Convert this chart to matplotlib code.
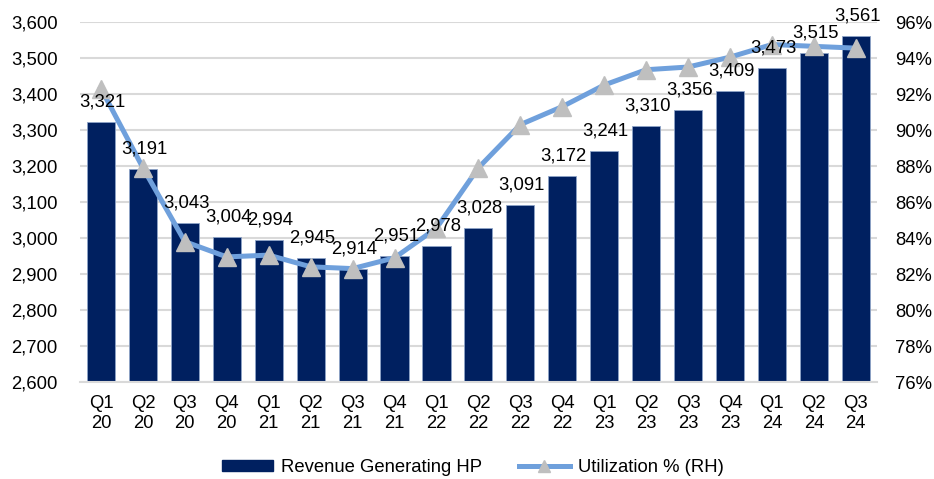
import matplotlib
matplotlib.use("Agg")
import matplotlib.pyplot as plt
from matplotlib.ticker import FuncFormatter, MultipleLocator
from matplotlib.lines import Line2D
from matplotlib.patches import Patch

plt.rcParams['font.family'] = ['Liberation Sans', 'DejaVu Sans']

categories = ["Q1\n20", "Q2\n20", "Q3\n20", "Q4\n20", "Q1\n21", "Q2\n21", "Q3\n21", "Q4\n21",
              "Q1\n22", "Q2\n22", "Q3\n22", "Q4\n22", "Q1\n23", "Q2\n23", "Q3\n23", "Q4\n23",
              "Q1\n24", "Q2\n24", "Q3\n24"]
revenue_hp = [3321, 3191, 3043, 3004, 2994, 2945, 2914, 2951, 2978, 3028, 3091, 3172,
              3241, 3310, 3356, 3409, 3473, 3515, 3561]
utilization = [92.3, 87.9, 83.8, 82.95, 83.05, 82.4, 82.3, 82.9, 84.55, 87.9, 90.3, 91.3,
               92.5, 93.35, 93.5, 94.05, 94.75, 94.65, 94.55]

bar_color = '#002060'
line_color = '#6FA0DC'
marker_color = '#BFBFBF'
grid_color = '#D9D9D9'
fs = 13.3

fig = plt.figure(figsize=(9.34, 4.79), dpi=100)
ax = fig.add_axes([0.0857, 0.2025, 0.853, 0.7515])
x = list(range(len(categories)))

ax.bar(x, revenue_hp, width=0.67, color=bar_color, edgecolor='#8EA4C8', linewidth=0.6, zorder=2)
ax.set_ylim(2600, 3600)
ax.set_xlim(-0.5, len(categories) - 0.5)
ax.yaxis.set_major_locator(MultipleLocator(100))
ax.yaxis.set_major_formatter(FuncFormatter(lambda v, p: f"{int(v):,}"))
ax.grid(axis='y', color=grid_color, linewidth=1.5, zorder=0)
ax.set_axisbelow(True)
for s in ['top', 'right', 'left']:
    ax.spines[s].set_visible(False)
ax.spines['bottom'].set_color(grid_color)
ax.spines['bottom'].set_linewidth(1.5)
ax.set_xticks(x)
ax.set_xticklabels(categories, fontsize=fs, linespacing=1.3)
ax.tick_params(axis='x', length=0, pad=9)
ax.tick_params(axis='y', length=0, pad=16, labelsize=fs)

ax2 = ax.twinx()
ax2.plot(x, utilization, color=line_color, linewidth=3.6, marker='^', markersize=13,
         markerfacecolor=marker_color, markeredgecolor=marker_color, zorder=3)
ax2.set_ylim(76, 96)
ax2.yaxis.set_major_locator(MultipleLocator(2))
ax2.yaxis.set_major_formatter(FuncFormatter(lambda v, p: f"{int(round(v))}%"))
ax2.tick_params(axis='y', length=0, pad=13, labelsize=fs)
for s in ['top', 'right', 'left', 'bottom']:
    ax2.spines[s].set_visible(False)

# data labels on top (drawn on ax2 layer so they sit above the line)
for xi, v in zip(x, revenue_hp):
    ax2.annotate(f"{v:,}", xy=(xi, (v - 2600) / 1000 * 20 + 76), xytext=(1, 14.4),
                 textcoords='offset points', ha='center', va='center', fontsize=fs,
                 color='black', zorder=5)

handles = [Patch(facecolor=bar_color, edgecolor=bar_color),
           Line2D([0], [0], color=line_color, linewidth=3.6, marker='^', markersize=9,
                  markerfacecolor=marker_color, markeredgecolor=marker_color)]
fig.legend(handles, ['Revenue Generating HP', 'Utilization % (RH)'], loc='center',
           bbox_to_anchor=(0.506, 0.024), ncol=2, frameon=False, fontsize=fs,
           handlelength=2.8, handleheight=0.55, columnspacing=2.0, handletextpad=0.4)

fig.savefig('out.png', dpi=100)
